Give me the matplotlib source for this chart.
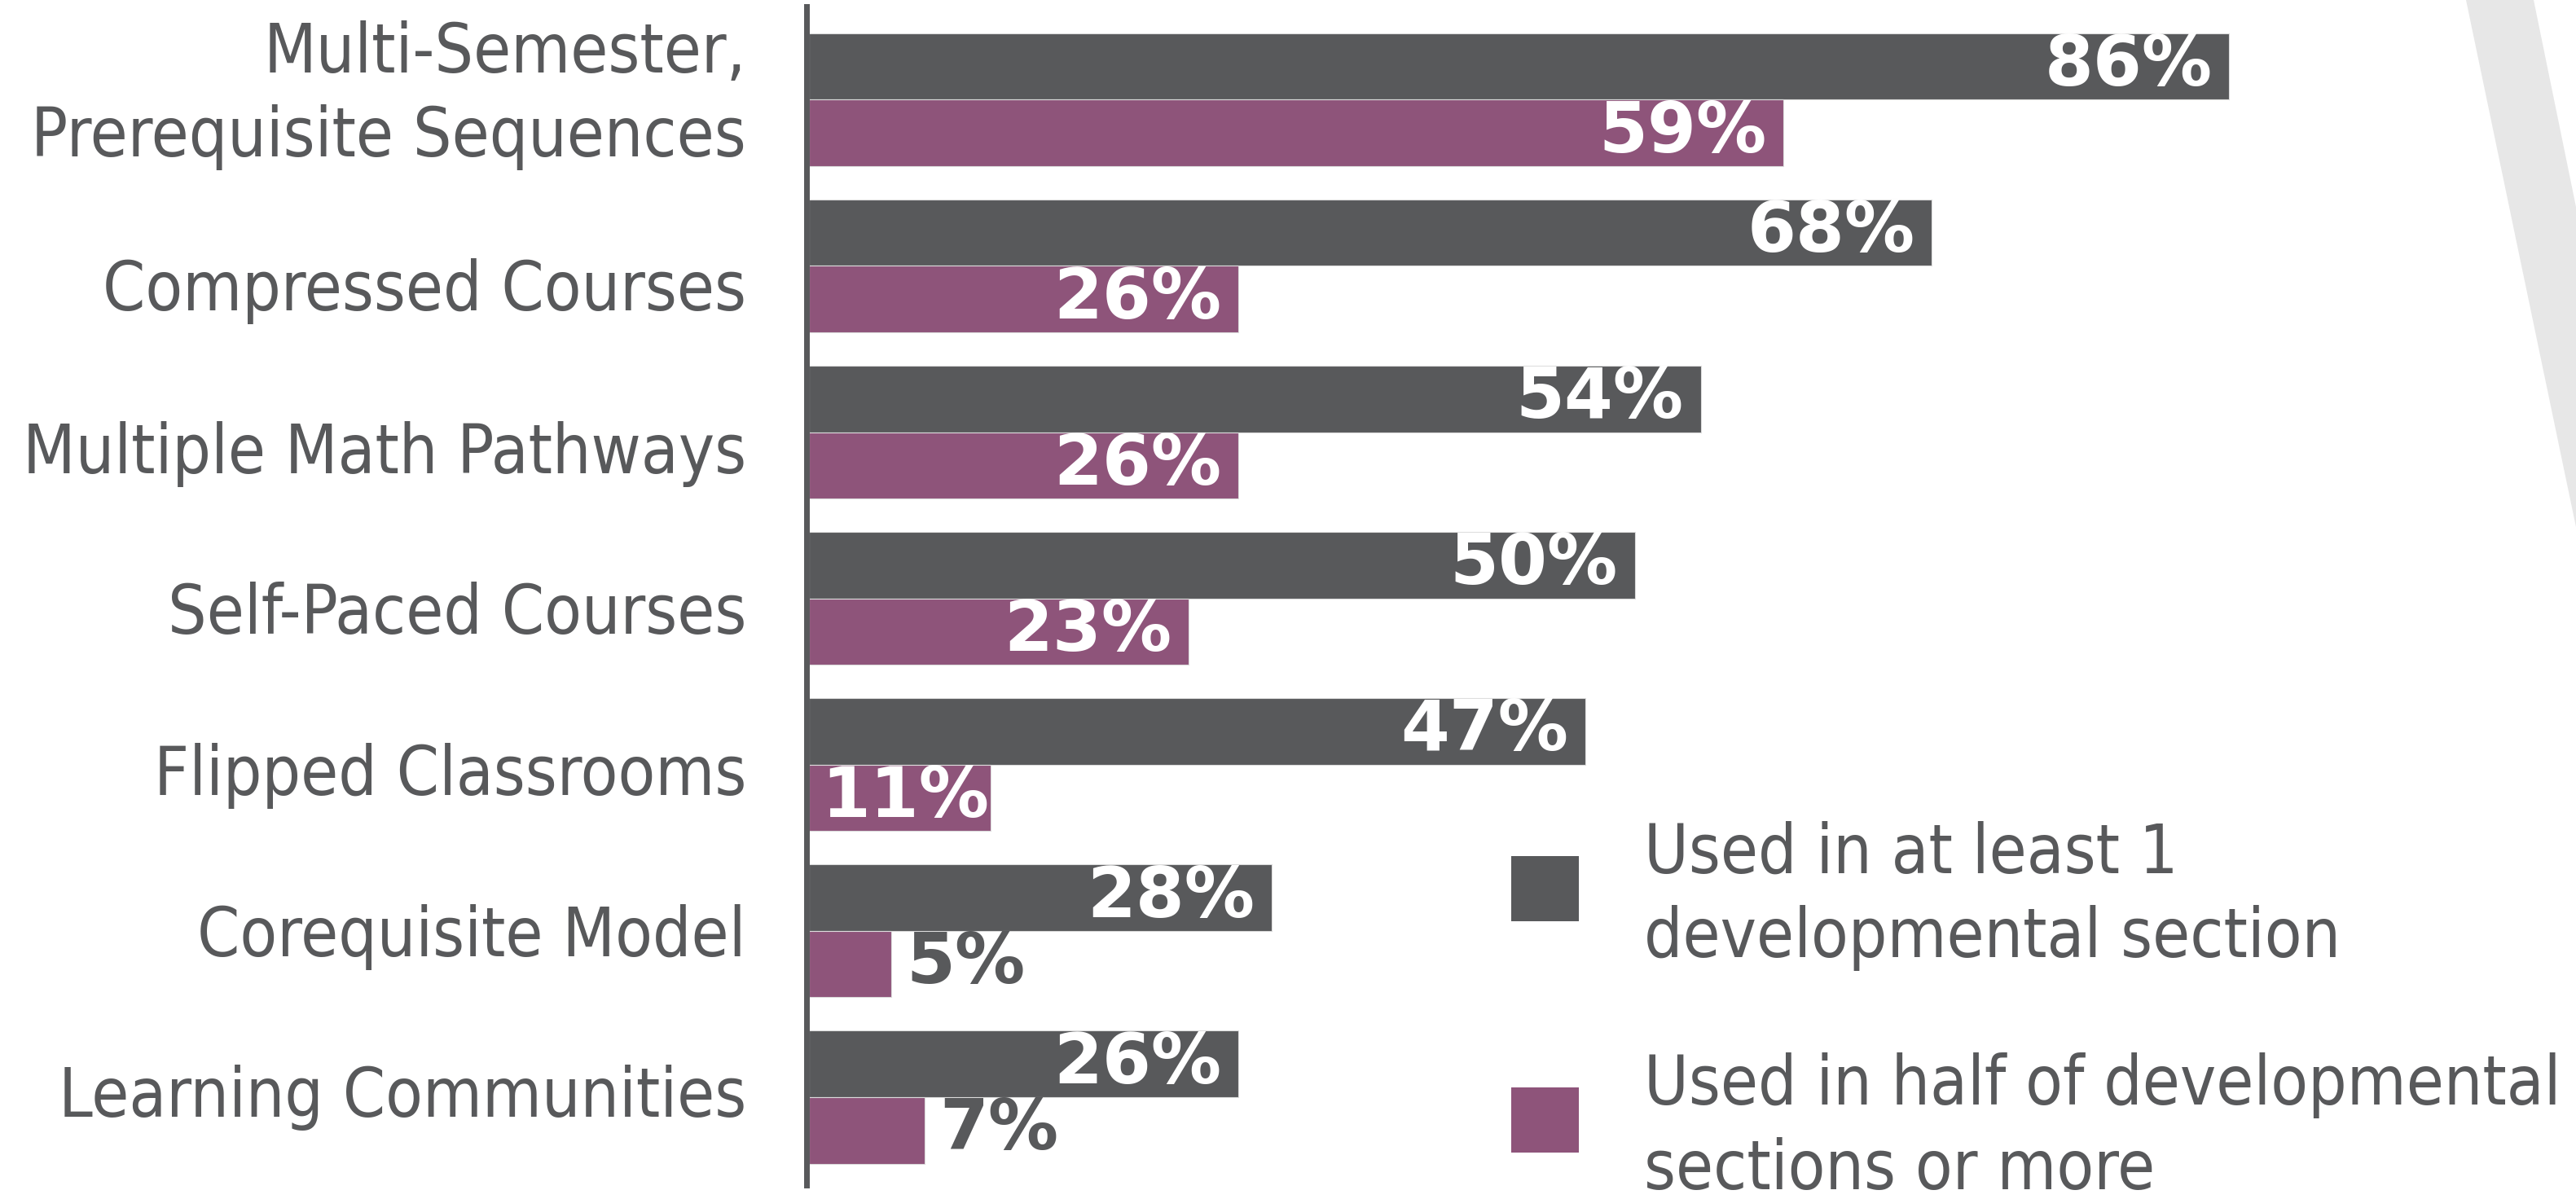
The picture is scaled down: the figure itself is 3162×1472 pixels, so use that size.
import matplotlib
matplotlib.use("Agg")
import matplotlib.pyplot as plt
from matplotlib.patches import Polygon, Patch
from matplotlib.transforms import ScaledTranslation
import numpy as np

# data
categories = ["Multi-Semester,\nPrerequisite Sequences", "Compressed Courses",
              "Multiple Math Pathways", "Self-Paced Courses", "Flipped Classrooms",
              "Corequisite Model", "Learning Communities"]
at_least_one = [86, 68, 54, 50, 47, 28, 26]
half_or_more = [59, 26, 26, 23, 11, 5, 7]
series_labels = ["Used in at least 1\ndevelopmental section",
                 "Used in half of developmental\nsections or more"]

dark = "#58595B"
purple = "#8E547A"
text_col = "#58595B"

# the category labels in the original are not exactly on the group centres
label_nudge_px = [-25, 23, 18, 11, 5, -1, -8]

plt.rcParams["font.stretch"] = "condensed"

fig = plt.figure(figsize=(31.62, 14.72), dpi=100)
fig.patch.set_facecolor("white")

# light grey diagonal band, top right corner
band = Polygon([(3027/3162, 1.0), (3110/3162, 1.0), (1.0, 1 - 254/1472), (1.0, 1 - 647/1472)],
               closed=True, transform=fig.transFigure, facecolor="#E7E7E7",
               edgecolor="none", zorder=0)
fig.add_artist(band)

ax = fig.add_axes([0.31404, 0.0115, 0.6411, 0.983])
ax.set_facecolor("none")

# spines first: set_position resets the ticks
for s in ("top", "right", "bottom"):
    ax.spines[s].set_visible(False)
ax.spines["left"].set_color(dark)
ax.spines["left"].set_linewidth(5)
ax.spines["left"].set_position(("outward", 2.5))

y = np.arange(len(categories))
h = 0.4
b1 = ax.barh(y - h/2, at_least_one, height=h, color=dark, edgecolor="#DDDDDD", linewidth=0.8)
b2 = ax.barh(y + h/2, half_or_more, height=h, color=purple, edgecolor="#DDDDDD", linewidth=0.8)

for bars, vals in ((b1, at_least_one), (b2, half_or_more)):
    for bar, v in zip(bars, vals):
        yc = bar.get_y() + bar.get_height() / 2
        if v >= 10:
            pad = -15 if v >= 15 else -1.5
            ax.annotate(f"{v}%", (v, yc), xytext=(pad, 0), textcoords="offset points",
                        ha="right", va="center", color="white", fontsize=62,
                        fontweight="bold", fontstretch="normal")
        else:
            ax.annotate(f"{v}%", (v, yc), xytext=(13, 0), textcoords="offset points",
                        ha="left", va="center", color=text_col, fontsize=62,
                        fontweight="bold", fontstretch="normal")

ax.set_xlim(0, 100)
ax.set_ylim(6.53, -0.56)
ax.set_yticks(y)
ax.set_yticklabels(categories, fontsize=60, color=text_col, linespacing=1.35)
ax.tick_params(axis="y", length=0, pad=53)
ax.set_xticks([])
for lab, dy in zip(ax.get_yticklabels(), label_nudge_px):
    lab.set_transform(lab.get_transform() + ScaledTranslation(0, -dy / 100, fig.dpi_scale_trans))

handles = [Patch(facecolor=dark), Patch(facecolor=purple)]
leg = ax.legend(handles, series_labels, loc="upper left",
                bbox_to_anchor=(1855/3162, 1 - 995/1472),
                bbox_transform=fig.transFigure, frameon=False, fontsize=60,
                handlelength=1.0, handleheight=1.1, handletextpad=0.95,
                labelspacing=1.2, borderpad=0, borderaxespad=0)
for t in leg.get_texts():
    t.set_color(text_col)
    t.set_linespacing(1.35)
    t.set_transform(t.get_transform() + ScaledTranslation(0, -0.13, fig.dpi_scale_trans))

fig.savefig("out.png", dpi=100, facecolor="white")
